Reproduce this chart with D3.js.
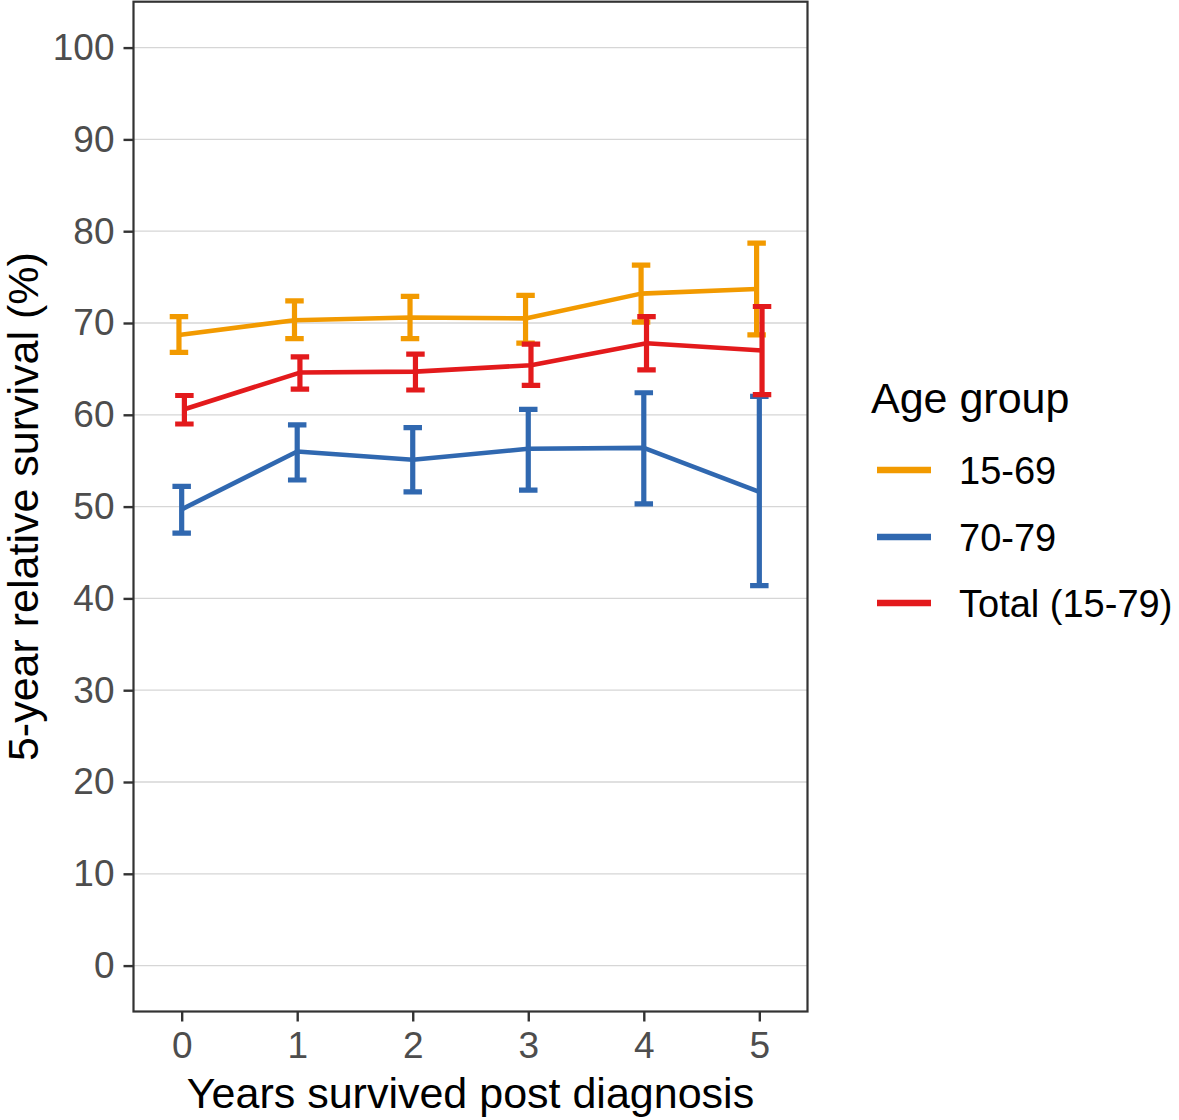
<!DOCTYPE html>
<html>
<head>
<meta charset="utf-8">
<script src="https://cdn.jsdelivr.net/npm/d3@7"></script>
<style>
  body { margin: 0; background: #fff; }
  svg { display: block; font-family: "Liberation Sans", Arial, sans-serif; }
</style>
</head>
<body>
<svg id="chart" width="1179" height="1120"></svg>
<script>
// ---- Data ----
const years = [0, 1, 2, 3, 4, 5];
const groups = ["15-69", "70-79", "Total (15-79)"];
const groupColors = ["#F29A00", "#3068B0", "#E31A1C"];

const est_15_69  = [68.7, 70.3, 70.6, 70.5, 73.2, 73.7];
const lo_15_69   = [66.8, 68.3, 68.3, 67.8, 70.1, 68.7];
const hi_15_69   = [70.7, 72.4, 72.9, 73.0, 76.3, 78.7];

const est_70_79  = [49.7, 56.0, 55.1, 56.3, 56.4, 51.6];
const lo_70_79   = [47.1, 52.9, 51.6, 51.8, 50.3, 41.4];
const hi_70_79   = [52.2, 58.9, 58.6, 60.6, 62.4, 62.0];

const est_total  = [60.6, 64.6, 64.7, 65.4, 67.8, 67.0];
const lo_total   = [59.0, 62.8, 62.7, 63.2, 64.9, 62.2];
const hi_total   = [62.1, 66.3, 66.6, 67.7, 70.7, 71.8];

const yTicks = [0, 10, 20, 30, 40, 50, 60, 70, 80, 90, 100];

const series = [
  { name: groups[0], color: groupColors[0], est: est_15_69, lo: lo_15_69, hi: hi_15_69 },
  { name: groups[1], color: groupColors[1], est: est_70_79, lo: lo_70_79, hi: hi_70_79 },
  { name: groups[2], color: groupColors[2], est: est_total, lo: lo_total, hi: hi_total }
];

// ---- Layout ----
const svg = d3.select("#chart");
const panel = { left: 133.5, right: 807.5, top: 1.7, bottom: 1011.5 };

const x = d3.scaleLinear().domain([-0.417, 5.417]).range([panel.left, panel.right]);
const y = d3.scaleLinear().domain([-5, 105]).range([panel.bottom, panel.top]);

const dodge = 0.0235;       // position dodge offset in data units
const capHalf = 0.08;       // half width of error bar caps in data units

// gridlines
svg.append("g").selectAll("line").data(yTicks).join("line")
  .attr("x1", panel.left).attr("x2", panel.right)
  .attr("y1", d => y(d)).attr("y2", d => y(d))
  .attr("stroke", "#d6d6d6").attr("stroke-width", 1.3);

// series
const plot = svg.append("g");
series.forEach((s, gi) => {
  const off = (gi - 1) * dodge;
  const pts = years.map((yr, i) => ({ x: yr + off, est: s.est[i], lo: s.lo[i], hi: s.hi[i] }));
  const line = d3.line().x(d => x(d.x)).y(d => y(d.est));
  plot.append("path").datum(pts)
    .attr("d", line).attr("fill", "none")
    .attr("stroke", s.color).attr("stroke-width", 4.6)
    .attr("stroke-linejoin", "round");
  const eb = plot.append("g").attr("stroke", s.color).attr("stroke-width", 5.2).attr("fill", "none");
  eb.selectAll("path").data(pts).join("path")
    .attr("d", d => {
      const xl = x(d.x - capHalf), xr = x(d.x + capHalf), xc = x(d.x);
      const yt = y(d.hi), yb = y(d.lo);
      return `M${xl},${yt}H${xr}M${xc},${yt}V${yb}M${xl},${yb}H${xr}`;
    });
});

// panel border
svg.append("rect")
  .attr("x", panel.left).attr("y", panel.top)
  .attr("width", panel.right - panel.left).attr("height", panel.bottom - panel.top)
  .attr("fill", "none").attr("stroke", "#333").attr("stroke-width", 2.2);

// y axis
const yAxis = d3.axisLeft(y).tickValues(yTicks).tickSize(10).tickPadding(9).tickFormat(d3.format("d"));
const gy = svg.append("g").attr("transform", `translate(${panel.left},0)`).call(yAxis);
gy.select(".domain").remove();
gy.selectAll(".tick line").attr("stroke", "#333").attr("stroke-width", 2.4);
gy.selectAll(".tick text").attr("fill", "#4d4d4d")
  .style("font-size", "37px").style("font-family", "Liberation Sans, Arial, sans-serif");

// x axis
const xAxis = d3.axisBottom(x).tickValues(years).tickSize(10).tickPadding(10).tickFormat(d3.format("d"));
const gx = svg.append("g").attr("transform", `translate(0,${panel.bottom})`).call(xAxis);
gx.select(".domain").remove();
gx.selectAll(".tick line").attr("stroke", "#333").attr("stroke-width", 2.4);
gx.selectAll(".tick text").attr("fill", "#4d4d4d")
  .style("font-size", "37px").style("font-family", "Liberation Sans, Arial, sans-serif");

// axis titles
svg.append("text")
  .attr("x", (panel.left + panel.right) / 2).attr("y", 1108)
  .attr("text-anchor", "middle").attr("fill", "#000")
  .style("font-size", "43px")
  .text("Years survived post diagnosis");

svg.append("text")
  .attr("transform", `translate(38,${(panel.top + panel.bottom) / 2}) rotate(-90)`)
  .attr("text-anchor", "middle").attr("fill", "#000")
  .style("font-size", "43px")
  .text("5-year relative survival (%)");

// legend
const lg = svg.append("g");
lg.append("text").attr("x", 871).attr("y", 413)
  .attr("fill", "#000").style("font-size", "43px").text("Age group");
const keyY = [470, 537, 603];
const items = lg.selectAll("g.item").data(series).join("g").attr("class", "item")
  .attr("transform", (d, i) => `translate(0,${keyY[i]})`);
items.append("line").attr("x1", 877).attr("x2", 931).attr("y1", 0).attr("y2", 0)
  .attr("stroke", d => d.color).attr("stroke-width", 6.5);
items.append("text").attr("x", 959).attr("y", 14)
  .attr("fill", "#000").style("font-size", "38px").text(d => d.name);
</script>
</body>
</html>
